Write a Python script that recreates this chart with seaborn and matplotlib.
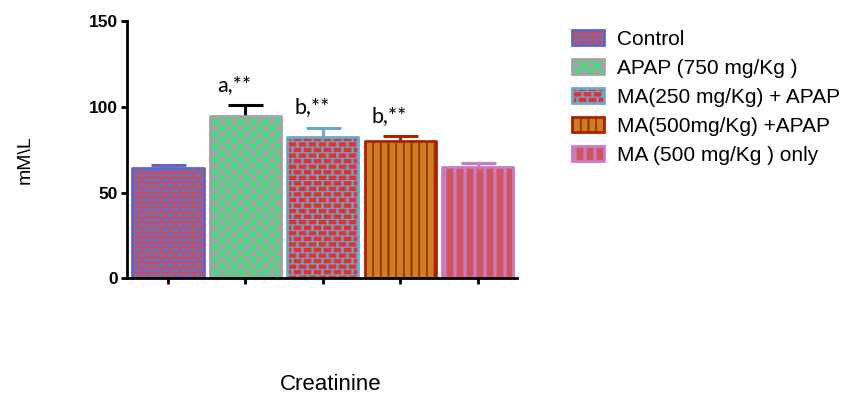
import warnings

import numpy as np
import pandas as pd
import matplotlib
matplotlib.use("Agg")
import matplotlib.pyplot as plt
from matplotlib import hatch as mhatch
from matplotlib.path import Path
from matplotlib.legend_handler import HandlerTuple
import seaborn as sns

warnings.filterwarnings("ignore")

# ---------------------------------------------------------------- data
groups = ["Control", "APAP (750 mg/Kg )", "MA(250 mg/Kg) + APAP",
          "MA(500mg/Kg) +APAP", "MA (500 mg/Kg ) only"]
means = [64.3, 94.5, 82.2, 80.3, 64.7]
sems = [1.9, 6.3, 5.4, 2.4, 2.5]
marks = ["", "a,**", "b,**", "b,**", ""]
x_title = "Creatinine"
y_title = "mM\\L"
y_ticks = [0, 50, 100, 150]

# ---------------------------------------------------------------- styling
face_colors = ["#6464C4", "#A3A3A3", "#FF1414", "#E68600", "#E6404A"]
pattern_colors = ["#EC3C3C", "#3EE07E", "#6CA8CC", "#A82400", "#C87CC4"]
edge_colors = ["#6464C4", "#A3A3A3", "#6CA8CC", "#A82400", "#C87CC4"]
err_colors = ["#6464C4", "#000000", "#6CA8CC", "#A82400", "#C87CC4"]
patterns = ["k", "c", "q", "v", "s"]

HATCH_LW_PT = 0.3                        # outline stroke of every pattern shape
_stroke = HATCH_LW_PT / 72.0             # same stroke in pattern-tile units


# ---------------------------------------------------------------- fill patterns
class _TileHatch(mhatch.HatchPatternBase):
    """A hatch made of one fixed tile of filled shapes."""
    key = ""

    def __init__(self, hatch, density):
        if hatch and self.key in hatch:
            verts, codes = self.tile()
        else:
            verts = np.empty((0, 2))
            codes = np.empty(0, dtype=Path.code_type)
        self._verts, self._codes = verts, codes
        self.num_vertices = len(verts)

    def set_vertices_and_codes(self, vertices, codes):
        vertices[:] = self._verts
        codes[:] = self._codes


def _rects(rects):
    verts, codes = [], []
    for x0, y0, w, h in rects:
        verts += [(x0, y0), (x0 + w, y0), (x0 + w, y0 + h), (x0, y0 + h), (x0, y0)]
        codes += [Path.MOVETO, Path.LINETO, Path.LINETO, Path.LINETO, Path.CLOSEPOLY]
    return np.array(verts, float), np.array(codes, dtype=Path.code_type)


def _bricks(rows, cols, h_line, v_line):
    """Running-bond brickwork: mortar lines of the given thickness."""
    dy, dx = 1.0 / rows, 1.0 / cols
    h = max(h_line - _stroke, 0.001)
    v = max(v_line - _stroke, 0.001)
    rects = []
    for r in range(rows):
        y = (r + 0.5) * dy
        rects.append((-0.02, y - h / 2, 1.04, h))
    for r in range(-1, rows):
        y = (r + 0.5) * dy
        shift = 0.5 * dx if r % 2 else 0.0
        for c in range(cols):
            x = (c + 0.25) * dx + shift
            rects.append((x - v / 2, y + h / 2 + 0.0005, v, dy - h - 0.001))
    return _rects(rects)


def _checker(n):
    s = 1.0 / n
    inset = _stroke / 2
    return _rects([(i * s + inset, j * s + inset, s - 2 * inset, s - 2 * inset)
                   for i in range(n) for j in range(n) if (i + j) % 2 == 0])


def _stripes(n, width):
    s = 1.0 / n
    w = max(width - _stroke, 0.001)
    return _rects([((i + 0.5) * s - w / 2, -0.02, w, 1.04) for i in range(n)])


def _register(key, builder):
    cls = type(f"TileHatch_{key}", (_TileHatch,),
               {"key": key, "tile": staticmethod(builder)})
    mhatch._hatch_types.append(cls)


_register("k", lambda: _bricks(20, 11, 0.013, 0.013))
_register("q", lambda: _bricks(18, 10, 0.011, 0.022))
_register("c", lambda: _checker(16))
_register("v", lambda: _stripes(13, 0.018))
_register("s", lambda: _stripes(10, 0.03))

# ---------------------------------------------------------------- figure
sns.set_style("ticks")
plt.rcParams["font.family"] = ["Liberation Sans", "DejaVu Sans"]
plt.rcParams["hatch.linewidth"] = HATCH_LW_PT
for key in ("text.color", "axes.labelcolor", "xtick.color", "ytick.color",
            "axes.edgecolor"):
    plt.rcParams[key] = "black"

df = pd.DataFrame({"group": groups, "value": means})

fig = plt.figure(figsize=(8.49, 3.96), dpi=100)
ax = fig.add_axes([0.1492, 0.2972, 0.4598, 0.6498])

# patterned fill
sns.barplot(data=df, x="group", y="value", hue="group",
            palette=dict(zip(groups, face_colors)), width=0.92,
            errorbar=None, legend=False, ax=ax)
fill_bars = sorted(ax.patches, key=lambda p: p.get_x())
for p, pc, hp in zip(fill_bars, pattern_colors, patterns):
    p.set_edgecolor(pc)
    p.set_linewidth(0)
    p.set_hatch(hp)
    p.set_zorder(1)

# coloured outline on top
n_before = len(ax.patches)
sns.barplot(data=df, x="group", y="value", hue="group",
            palette=dict(zip(groups, edge_colors)), width=0.92,
            errorbar=None, legend=False, fill=False, linewidth=2.0, ax=ax)
outline_bars = sorted(ax.patches[n_before:], key=lambda p: p.get_x())
for p, ec in zip(outline_bars, edge_colors):
    p.set_facecolor("none")
    p.set_edgecolor(ec)
    p.set_linewidth(2.0)
    p.set_joinstyle("round")
    p.set_zorder(1.2)

# SEM whiskers (lower half sits behind the bar)
xpos = np.arange(len(groups))
for xi, m, e, c in zip(xpos, means, sems, err_colors):
    ax.errorbar(xi, m, yerr=e, fmt="none", ecolor=c, elinewidth=2.2,
                capsize=12.6, capthick=2.2, zorder=0.5)

# significance marks
for xi, m, e, t in zip(xpos, means, sems, marks):
    if t:
        ax.text(xi - 0.138, m + e + 8.6, t, ha="center", va="baseline",
                fontsize=15.5, family=["Lato", "DejaVu Sans"])

# axes
ax.set_xlim(-0.535, 4.51)
ax.set_ylim(0, 150)
ax.set_yticks(y_ticks)
ax.set_xticks(xpos)
ax.tick_params(axis="x", labelbottom=False, direction="out", length=4.5, width=2)
ax.tick_params(axis="y", direction="out", length=4.5, width=2, pad=2,
               labelsize=12.5)
for lab in ax.get_yticklabels():
    lab.set_fontweight("bold")
for side in ("top", "right"):
    ax.spines[side].set_visible(False)
for side in ("left", "bottom"):
    ax.spines[side].set_linewidth(2.0)
    ax.spines[side].set_color("black")

ax.set_xlabel(x_title, fontsize=16)
ax.xaxis.set_label_coords(0.522, -0.372)
ax.set_ylabel(y_title, fontsize=14)
ax.yaxis.set_label_coords(-0.2375, 0.46)

# legend: patterned fill overlaid with its outline
handles = [(f, o) for f, o in zip(fill_bars, outline_bars)]
ax.legend(handles, groups, handler_map={tuple: HandlerTuple(ndivide=1)},
          loc="upper left", bbox_to_anchor=(572 / 849, 1 - 30 / 396),
          bbox_transform=fig.transFigure, frameon=False, fontsize=15,
          handlelength=1.55, handleheight=0.72, handletextpad=0.6,
          labelspacing=0.48, borderpad=0, borderaxespad=0)

fig.savefig("out.png", dpi=100)
